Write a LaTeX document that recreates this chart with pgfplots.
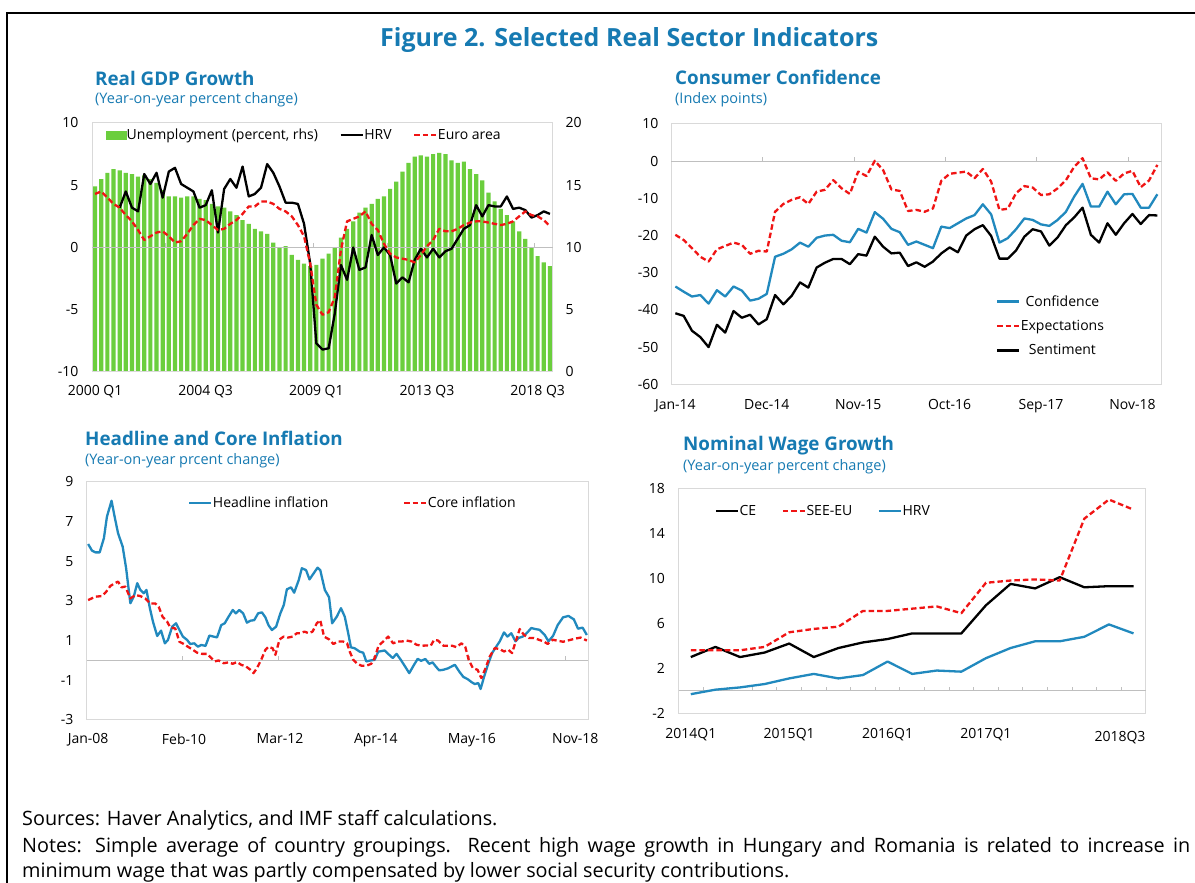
\documentclass[border=0pt]{standalone}
\usepackage{pgfplots}
\pgfplotsset{compat=1.18}
\usepackage{fontspec}
\setmainfont{Open Sans}
\definecolor{titleblue}{RGB}{22,122,178}
\definecolor{lineblue}{RGB}{33,137,190}
\definecolor{redline}{RGB}{240,20,20}
\definecolor{bargreen}{RGB}{107,206,61}
\definecolor{framegray}{RGB}{217,217,217}
\definecolor{zerogray}{RGB}{191,191,191}
\newcommand{\tickfont}{\fontsize{14}{16.5}\selectfont}
\pgfplotsset{
  panel/.style={
    anchor=south west,
    scale only axis,
    axis line style={draw=framegray, line width=1pt},
    major tick length=0pt, minor tick length=0pt,
    tick style={draw=none},
    tick label style={font=\tickfont, text=black},
    legend style={draw=none, fill=none, inner sep=0pt, outer sep=0pt, font=\tickfont,
      nodes={inner sep=0.5pt}},
    legend image code/.code={\draw[##1] (0pt,0pt) -- (22pt,0pt);},
  },
  solidline/.style={line width=2.3pt, line join=round},
  dashline/.style={line width=2.3pt, dash pattern=on 5.5pt off 3pt, line join=round},
}
\begin{document}
\begin{tikzpicture}[x=1pt,y=1pt]
\useasboundingbox (0,0) rectangle (1195,883);
\clip (0,0) rectangle (1195,883);
\fill[white] (0,0) rectangle (1195,883);
\draw[black, line width=2pt] (7,-5) -- (7,870.3) -- (1200,870.3);

% titles
\node[anchor=base west, inner sep=0, text=titleblue, font=\bfseries\fontsize{25}{30}\selectfont] at (380,836) {Figure 2. Selected Real Sector Indicators};
\node[anchor=base west, inner sep=0, text=titleblue, font=\bfseries\fontsize{18.8}{22}\selectfont] at (95,797) {Real GDP Growth};
\node[anchor=base west, inner sep=0, text=titleblue, font=\fontsize{14.5}{17}\selectfont] at (95,779) {(Year-on-year percent change)};
\node[anchor=base west, inner sep=0, text=titleblue, font=\bfseries\fontsize{18.8}{22}\selectfont] at (675,798) {Consumer Confidence};
\node[anchor=base west, inner sep=0, text=titleblue, font=\fontsize{14.5}{17}\selectfont] at (675,779) {(Index points)};
\node[anchor=base west, inner sep=0, text=titleblue, font=\bfseries\fontsize{18.8}{22}\selectfont] at (85,437) {Headline and Core Inflation};
\node[anchor=base west, inner sep=0, text=titleblue, font=\fontsize{14.5}{17}\selectfont] at (85,418) {(Year-on-year prcent change)};
\node[anchor=base west, inner sep=0, text=titleblue, font=\bfseries\fontsize{18.8}{22}\selectfont] at (683,432) {Nominal Wage Growth};
\node[anchor=base west, inner sep=0, text=titleblue, font=\fontsize{14.5}{17}\selectfont] at (683,412) {(Year-on-year percent change)};

% notes
\node[anchor=base west, inner sep=0, font=\fontsize{19.8}{25.4}\selectfont] at (22,57) {Sources: Haver Analytics, and IMF staff calculations.};
\node[anchor=base west, inner sep=0, text width=1168pt, align=justify, font=\fontsize{19.8}{25.4}\selectfont] at (22,30.6) {Notes: Simple average of country groupings. Recent high wage growth in Hungary and Romania is related to increase in\linebreak minimum wage that was partly compensated by lower social security contributions.};

%================ Panel 1: Real GDP growth ==================
\begin{axis}[panel, at={(92pt,511pt)}, width=461pt, height=249pt,
  xmin=-0.5, xmax=74.5, ymin=0, ymax=20,
  ytick={0,5,10,15,20}, yticklabels={0,5,10,15,20}, yticklabel pos=right,
  yticklabel style={xshift=9.2pt},
  xtick={0,18,36,54,72}, xticklabels={2000 Q1,2004 Q3,2009 Q1,2013 Q3,2018 Q3},
  xticklabel style={yshift=-10pt}]
\addplot[ybar, bar width=4.2pt, bar shift=0pt, fill=bargreen, draw=none] coordinates {
(0,14.9) (1,15.5) (2,16.0) (3,16.3) (4,16.2) (5,16.0) (6,15.9) (7,15.7) (8,15.8) (9,15.5)
(10,15.2) (11,14.6) (12,14.1) (13,14.1) (14,14.0) (15,14.1) (16,14.1) (17,13.9) (18,13.8) (19,13.5)
(20,13.3) (21,13.2) (22,12.9) (23,12.6) (24,12.2) (25,11.9) (26,11.5) (27,11.3) (28,11.1) (29,10.4)
(30,10.0) (31,10.1) (32,9.4) (33,9.0) (34,8.7) (35,8.5) (36,8.6) (37,9.1) (38,9.5) (39,10.0)
(40,10.8) (41,11.5) (42,12.1) (43,12.8) (44,13.2) (45,13.5) (46,13.9) (47,14.1) (48,14.7) (49,15.3)
(50,16.1) (51,16.8) (52,17.3) (53,17.4) (54,17.3) (55,17.5) (56,17.6) (57,17.5) (58,17.0) (59,16.8)
(60,16.9) (61,16.3) (62,15.9) (63,15.4) (64,14.4) (65,13.7) (66,13.1) (67,12.6) (68,12.1) (69,11.3)
(70,10.7) (71,10.0) (72,9.3) (73,8.8) (74,8.5)};
\end{axis}
\begin{axis}[panel, at={(92pt,511pt)}, width=461pt, height=249pt,
  xmin=-0.5, xmax=74.5, ymin=-10, ymax=10,
  ytick={-10,-5,0,5,10}, yticklabels={-10,-5,0,5,10},
  yticklabel style={xshift=-10.2pt},
  xtick=\empty,
  legend columns=3,
  legend style={at={(0.030,0.952)}, anchor=west,
    /tikz/every odd column/.append style={column sep=0pt},
    /tikz/every even column/.append style={column sep=21pt}}]
\draw[zerogray, line width=1.3pt] (axis cs:-0.5,0) -- (axis cs:74.5,0);
\pgfplotsinvokeforeach{11.5,23.5,35.5,47.5,59.5,71.5}{\draw[zerogray, line width=1pt] (axis cs:#1,0) -- ++(0pt,4pt);}
\addlegendimage{legend image code/.code={\fill[bargreen] (0pt,-4pt) rectangle (20pt,4pt);}}
\addlegendentry{Unemployment (percent, rhs)}
\addplot[black, solidline] coordinates {
(4,3.2) (5,4.5) (6,3.2) (7,2.9) (8,5.9) (9,5.1)
(10,6.0) (11,4.0) (12,6.1) (13,6.4) (14,5.1) (15,4.8) (16,4.5) (17,3.2) (18,3.4) (19,4.6)
(20,1.2) (21,4.7) (22,5.5) (23,4.8) (24,6.5) (25,4.1) (26,4.3) (27,4.8) (28,6.7) (29,6.0)
(30,4.9) (31,3.6) (32,3.6) (33,3.5) (34,1.9) (35,-1.3) (36,-7.7) (37,-8.2) (38,-8.1) (39,-5.3)
(40,-1.4) (41,-2.6) (42,0.0) (43,-1.8) (44,-1.6) (45,1.0) (46,-0.6) (47,0.0) (48,-0.6) (49,-2.9)
(50,-2.4) (51,-2.8) (52,-1.0) (53,-0.1) (54,-0.8) (55,-0.1) (56,-0.8) (57,-0.3) (58,-0.1) (59,0.7)
(60,1.5) (61,1.8) (62,3.4) (63,2.5) (64,3.4) (65,3.3) (66,3.3) (67,4.1) (68,3.1) (69,3.2)
(70,3.0) (71,2.4) (72,2.6) (73,2.9) (74,2.7)};
\addlegendentry{HRV}
\addplot[redline, dashline] coordinates {
(0,4.3) (1,4.5) (2,4.0) (3,3.5) (4,3.2) (5,2.6) (6,2.1) (7,1.4) (8,0.6) (9,0.9)
(10,1.2) (11,1.3) (12,0.9) (13,0.4) (14,0.5) (15,1.1) (16,1.8) (17,2.3) (18,2.2) (19,1.8)
(20,1.4) (21,1.5) (22,1.9) (23,2.2) (24,2.7) (25,3.3) (26,3.3) (27,3.7) (28,3.7) (29,3.5)
(30,3.1) (31,2.9) (32,2.5) (33,1.8) (34,0.9) (35,-1.3) (36,-4.6) (37,-5.4) (38,-5.2) (39,-4.0)
(40,-0.2) (41,2.1) (42,2.3) (43,2.5) (44,2.9) (45,1.9) (46,1.4) (47,0.3) (48,-0.5) (49,-0.8)
(50,-0.9) (51,-1.0) (52,-1.2) (53,-0.6) (54,0.1) (55,0.6) (56,1.5) (57,1.3) (58,1.3) (59,1.5)
(60,1.8) (61,2.0) (62,2.1) (63,2.1) (64,2.0) (65,1.9) (66,1.8) (67,1.9) (68,2.1) (69,2.5)
(70,2.9) (71,2.6) (72,2.5) (73,2.2) (74,1.7)};
\addlegendentry{Euro area}
\end{axis}

%================ Panel 2: Consumer confidence ==================
\begin{axis}[panel, at={(671.2pt,498.7pt)}, width=490.3pt, height=260.3pt,
  xmin=-0.5, xmax=58.5, ymin=-60, ymax=10,
  ytick={-60,-50,-40,-30,-20,-10,0,10}, yticklabels={-60,-50,-40,-30,-20,-10,0,10},
  yticklabel style={xshift=-9.2pt},
  xtick={0,11,22,33,44,55}, xticklabels={Jan-14,Dec-14,Nov-15,Oct-16,Sep-17,Nov-18},
  xticklabel style={yshift=-12pt},
  legend columns=1,
  legend style={at={(0.6625,0.343)}, anchor=north west, /tikz/row sep=11.5pt}]
\draw[zerogray, line width=1.3pt] (axis cs:-0.5,0) -- (axis cs:58.5,0);
\pgfplotsinvokeforeach{10.5,21.5,32.5,43.5,54.5}{\draw[zerogray, line width=1pt] (axis cs:#1,0) -- ++(0pt,4pt);}
\addplot[lineblue, solidline] coordinates {
(0,-33.7) (1,-35.1) (2,-36.4) (3,-36.0) (4,-38.3) (5,-34.7) (6,-36.4) (7,-33.7) (8,-34.8) (9,-37.5)
(10,-37.0) (11,-35.7) (12,-25.7) (13,-24.9) (14,-23.7) (15,-21.9) (16,-23.0) (17,-20.6) (18,-20.0) (19,-19.8)
(20,-21.4) (21,-21.8) (22,-18.2) (23,-19.2) (24,-13.7) (25,-15.5) (26,-18.2) (27,-19.1) (28,-22.5) (29,-21.6)
(30,-22.5) (31,-23.4) (32,-17.6) (33,-18.0) (34,-16.7) (35,-15.4) (36,-14.5) (37,-11.6) (38,-14.3) (39,-21.9)
(40,-20.7) (41,-18.3) (42,-15.4) (43,-15.8) (44,-17.0) (45,-17.4) (46,-15.8) (47,-13.6) (48,-9.5) (49,-6.1)
(50,-12.2) (51,-12.2) (52,-8.2) (53,-11.6) (54,-8.9) (55,-8.8) (56,-12.5) (57,-12.5) (58,-8.9)};
\addlegendentry{Confidence}
\addplot[redline, dashline] coordinates {
(0,-19.8) (1,-21.2) (2,-23.4) (3,-25.7) (4,-27.0) (5,-23.7) (6,-22.8) (7,-21.9) (8,-22.5) (9,-24.9)
(10,-24.1) (11,-24.3) (12,-13.6) (13,-11.5) (14,-10.4) (15,-9.7) (16,-11.5) (17,-8.2) (18,-7.7) (19,-5.1)
(20,-7.3) (21,-8.8) (22,-2.8) (23,-4.0) (24,0.1) (25,-2.4) (26,-7.6) (27,-8.0) (28,-13.4) (29,-13.1)
(30,-13.6) (31,-12.7) (32,-5.3) (33,-3.4) (34,-3.1) (35,-2.8) (36,-4.6) (37,-2.1) (38,-5.5) (39,-13.1)
(40,-12.8) (41,-8.6) (42,-6.7) (43,-7.1) (44,-9.1) (45,-8.9) (46,-7.3) (47,-5.1) (48,-1.5) (49,0.8)
(50,-4.6) (51,-4.9) (52,-3.0) (53,-5.3) (54,-3.3) (55,-2.6) (56,-7.0) (57,-5.2) (58,-1.0)};
\addlegendentry{Expectations}
\addplot[black, solidline] coordinates {
(0,-40.9) (1,-41.6) (2,-45.6) (3,-47.3) (4,-50.0) (5,-44.0) (6,-46.1) (7,-40.3) (8,-42.1) (9,-41.3)
(10,-43.9) (11,-42.5) (12,-36.0) (13,-38.5) (14,-36.2) (15,-32.6) (16,-34.0) (17,-28.6) (18,-27.3) (19,-26.3)
(20,-26.3) (21,-27.7) (22,-25.0) (23,-25.4) (24,-20.3) (25,-23.0) (26,-24.8) (27,-24.6) (28,-28.2) (29,-27.2)
(30,-28.4) (31,-27.0) (32,-24.8) (33,-23.2) (34,-24.5) (35,-20.0) (36,-18.3) (37,-17.2) (38,-20.1) (39,-26.2)
(40,-26.2) (41,-24.0) (42,-20.3) (43,-18.3) (44,-18.9) (45,-22.7) (46,-20.5) (47,-17.2) (48,-15.1) (49,-12.5)
(50,-19.8) (51,-21.9) (52,-16.7) (53,-19.8) (54,-16.7) (55,-14.2) (56,-16.9) (57,-14.5) (58,-14.6)};
\addlegendentry{Sentiment}
\end{axis}

%================ Panel 3: Inflation ==================
\begin{axis}[panel, at={(87pt,163pt)}, width=501pt, height=238.3pt,
  xmin=-0.3, xmax=130.3, ymin=-3, ymax=9,
  ytick={-3,-1,1,3,5,7,9}, yticklabels={-3,-1,1,3,5,7,9},
  yticklabel style={xshift=-10.2pt},
  xtick={0,25,50,75,100,127}, xticklabels={Jan-08,Feb-10,Mar-12,Apr-14,May-16,Nov-18},
  xticklabel style={yshift=-10pt},
  legend columns=2,
  legend style={at={(0.2020,0.9093)}, anchor=west,
    /tikz/every odd column/.append style={column sep=0pt},
    /tikz/every even column/.append style={column sep=74pt}}]
\draw[zerogray, line width=1.3pt] (axis cs:-0.3,0) -- (axis cs:130.3,0);
\pgfplotsinvokeforeach{24.5,49.5,74.5,99.5,124.5}{\draw[zerogray, line width=1pt] (axis cs:#1,0) -- ++(0pt,4pt);}
\addplot[lineblue, solidline] coordinates {
(0,5.86) (1.0,5.53) (1.9,5.44) (3.0,5.44) (4.1,6.15) (4.9,7.24) (6.1,8.04) (6.9,7.24) (7.8,6.40) (9.0,5.73)
(9.9,4.64) (11.0,2.88) (11.9,3.22) (12.8,3.89) (13.6,3.55) (14.5,3.38) (15.2,3.55) (16.1,2.62) (16.9,1.95) (18.0,1.23)
(19.0,1.50) (20.0,0.86) (20.8,1.03) (21.9,1.70) (22.9,1.87) (23.8,1.53) (24.7,1.20) (25.8,1.03) (26.6,0.83) (27.7,0.86)
(28.6,0.69) (29.5,0.78) (30.6,0.73) (31.6,1.25) (32.7,1.20) (33.6,1.16) (34.7,1.78) (35.6,1.87) (36.6,2.20) (37.7,2.54)
(38.5,2.37) (39.4,2.54) (40.4,2.37) (41.4,1.90) (42.3,2.00) (43.3,2.03) (44.3,2.37) (45.3,2.42) (46.2,2.17) (47.0,1.78)
(47.9,1.53) (49.0,1.70) (50.1,2.37) (51.0,2.79) (51.8,3.58) (52.9,3.68) (53.7,3.41) (54.9,4.05) (55.7,4.64) (56.8,4.55)
(57.7,4.08) (58.8,4.39) (59.8,4.67) (60.5,4.55) (61.7,3.55) (62.8,3.18) (63.6,1.87) (64.8,2.20) (65.9,2.63) (66.9,2.20)
(67.8,1.36) (68.5,0.66) (69.5,0.61) (70.8,0.44) (71.7,0.39) (72.5,-0.05) (73.7,0.00) (74.7,0.03) (75.6,0.44) (77.3,0.50)
(78.2,0.33) (79.4,0.12) (80.4,0.33) (81.5,0.03) (82.6,-0.30) (83.7,-0.64) (84.8,-0.27) (85.9,0.08) (86.8,-0.02) (87.9,0.07)
(88.9,-0.17) (89.8,-0.10) (90.6,-0.30) (91.5,-0.50) (92.6,-0.47) (93.8,-0.40) (94.8,-0.30) (95.6,-0.22) (96.7,-0.55) (97.8,-0.83)
(98.9,-0.94) (100.0,-1.10) (100.8,-1.19) (101.7,-1.14) (102.3,-1.44) (103.2,-0.83) (104.2,-0.22) (105.3,0.37) (106.4,0.70) (107.3,0.96)
(108.4,1.41) (109.3,1.20) (110.3,1.37) (111.4,0.96) (112.2,1.13) (113.3,1.20) (114.5,1.41) (115.5,1.63) (116.6,1.58) (117.7,1.54)
(119.0,1.29) (120.0,0.96) (121.2,1.24) (122.4,1.78) (123.8,2.17) (125.2,2.24) (126.6,2.07) (127.7,1.60) (128.9,1.65) (130.0,1.28)};
\addlegendentry{Headline inflation}
\addplot[redline, dashline] coordinates {
(0,3.04) (1.9,3.21) (3.6,3.24) (4.7,3.46) (5.8,3.75) (6.9,3.88) (7.8,3.97) (8.7,3.68) (9.7,3.72) (11.0,3.12)
(12.3,3.29) (13.6,3.24) (14.9,3.12) (16.2,2.87) (17.5,2.87) (18.4,2.70) (19.4,2.20) (20.6,1.95) (21.4,1.66) (22.7,1.61)
(23.8,0.94) (24.9,0.83) (26.0,0.69) (27.1,0.56) (28.4,0.39) (29.7,0.33) (31.0,0.33) (31.9,0.16) (33.0,-0.05) (34.0,0.00)
(35.3,-0.14) (36.6,-0.10) (37.7,-0.17) (38.8,-0.08) (39.9,-0.22) (41.1,-0.30) (42.3,-0.47) (43.1,-0.64) (44.0,-0.39) (45.1,0.03)
(46.2,0.53) (47.0,0.69) (48.1,0.61) (48.8,0.28) (49.9,1.06) (51.0,1.20) (52.1,1.15) (53.3,1.20) (54.4,1.37) (55.3,1.37)
(56.4,1.45) (57.5,1.37) (58.5,1.45) (59.6,1.87) (60.5,2.03) (61.5,1.20) (62.8,1.06) (63.9,0.83) (65.2,0.95) (66.5,0.95)
(67.5,0.86) (68.2,0.44) (69.1,0.03) (70.2,-0.17) (71.3,-0.27) (72.5,-0.27) (73.8,-0.17) (74.7,0.12) (75.7,0.74) (76.9,0.95)
(78.2,1.20) (79.5,0.86) (80.6,0.95) (81.7,0.95) (83.0,1.00) (84.3,0.95) (85.6,0.79) (86.9,0.74) (88.2,0.75) (89.3,0.74)
(90.2,1.04) (91.2,1.00) (92.6,0.74) (93.9,0.74) (94.9,0.74) (96.0,0.67) (97.3,0.86) (98.3,0.69) (99.2,0.03) (100.3,-0.39)
(101.5,-0.47) (102.5,-0.89) (103.6,-0.39) (104.7,0.20) (106.0,0.62) (107.3,0.57) (108.4,0.45) (109.5,0.54) (110.5,0.37) (111.6,1.04)
(112.5,1.58) (113.6,1.29) (114.9,1.13) (116.2,1.13) (117.5,1.04) (118.8,0.95) (119.8,0.83) (121.1,1.04) (123.8,0.94) (125.6,1.03)
(127.0,1.10) (128.4,1.15) (130.0,1.00)};
\addlegendentry{Core inflation}
\end{axis}

%================ Panel 4: Wages ==================
\begin{axis}[panel, at={(678.5pt,169.7pt)}, width=467.3pt, height=225pt,
  xmin=-0.5, xmax=18.5, ymin=-2, ymax=18,
  ytick={-2,2,6,10,14,18}, yticklabels={-2,2,6,10,14,18},
  yticklabel style={xshift=-10.2pt},
  xtick={0,4,8,12}, xticklabels={2014Q1,2015Q1,2016Q1,2017Q1},
  extra x ticks={17.45}, extra x tick labels={2018Q3},
  extra x tick style={xticklabel style={yshift=-2.5pt}},
  xticklabel style={yshift=-12pt},
  legend columns=3,
  legend style={at={(0.0777,0.8993)}, anchor=west,
    /tikz/every odd column/.append style={column sep=0pt},
    /tikz/every even column/.append style={column sep=25pt}}]
\draw[zerogray, line width=1.3pt] (axis cs:-0.5,0) -- (axis cs:18.5,0);
\pgfplotsinvokeforeach{0.5,1.5,...,17.5}{\draw[zerogray, line width=1pt] (axis cs:#1,0) -- ++(0pt,4pt);}
\addplot[black, solidline] coordinates {
(0,3.0) (1,3.9) (2,3.0) (3,3.4) (4,4.2) (5,3.0) (6,3.8) (7,4.3) (8,4.6) (9,5.1)
(10,5.1) (11,5.1) (12,7.6) (13,9.5) (14,9.1) (15,10.1) (16,9.2) (17,9.3) (18,9.3)};
\addlegendentry{CE}
\addplot[redline, dashline] coordinates {
(0,3.6) (1,3.6) (2,3.6) (3,3.9) (4,5.2) (5,5.5) (6,5.7) (7,7.1) (8,7.1) (9,7.3)
(10,7.5) (11,6.9) (12,9.6) (13,9.8) (14,9.9) (15,9.8) (16,15.3) (17,17.0) (18,16.1)};
\addlegendentry{SEE-EU}
\addplot[lineblue, solidline] coordinates {
(0,-0.3) (1,0.1) (2,0.3) (3,0.6) (4,1.1) (5,1.5) (6,1.1) (7,1.4) (8,2.6) (9,1.5)
(10,1.8) (11,1.7) (12,2.9) (13,3.8) (14,4.4) (15,4.4) (16,4.8) (17,5.9) (18,5.1)};
\addlegendentry{HRV}
\end{axis}
\end{tikzpicture}
\end{document}
